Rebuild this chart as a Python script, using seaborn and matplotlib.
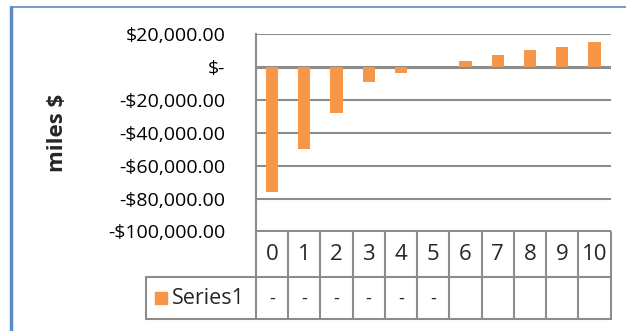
import matplotlib
matplotlib.use('Agg')
import matplotlib.pyplot as plt
import matplotlib.transforms as mtransforms
from matplotlib.patches import Rectangle
import numpy as np
import pandas as pd
import seaborn as sns

sns.set_style('white')
plt.rcParams['font.family'] = ['Open Sans', 'DejaVu Sans']

# Data
years = [0, 1, 2, 3, 4, 5, 6, 7, 8, 9, 10]
values = [-76000, -50000, -28300, -8900, -3400, 0, 3600, 7300, 10100, 11900, 15000]
table_text = ['-', '-', '-', '-', '-', '-', '', '', '', '', '']
series_name = 'Series1'
y_ticks = [20000, 0, -20000, -40000, -60000, -80000, -100000]

BAR = '#F79646'
GRID = '#8C8C8C'
FS = 14
TFS = 16

df = pd.DataFrame({'year': [str(y) for y in years], 'value': values})

W, H = 626, 331
fig = plt.figure(figsize=(W / 100, H / 100), dpi=100)
fig.patch.set_facecolor('white')

# axes in pixel layout
x0, x1, ytop, ybot = 255.7, 610.7, 34.0, 231.5
ax = fig.add_axes([x0 / W, 1 - ybot / H, (x1 - x0) / W, (ybot - ytop) / H])

sns.barplot(data=df, x='year', y='value', color=BAR, width=0.38,
            saturation=1, linewidth=0, ax=ax, zorder=3)

ax.set_ylim(-100000, 20000)
ax.set_xlim(-0.5, len(years) - 0.5)
ax.set_yticks(y_ticks)


def money(v):
    if v == 0:
        return '$-'
    s = '${:,.2f}'.format(abs(v))
    return '-' + s if v < 0 else s


ax.set_yticklabels([money(v) for v in y_ticks])
ax.tick_params(axis='y', length=0, labelsize=FS, pad=22, colors='#000000')
ax.set_xticks([])
ax.set_xlabel('')
ax.set_ylabel('miles $', fontsize=16, fontweight='bold')
ax.yaxis.set_label_coords(-0.53, 0.5)

for v in y_ticks:
    ax.axhline(v, color=GRID, lw=1.5 if v != 0 else 2.2, zorder=2)
for side in ['top', 'right', 'bottom']:
    ax.spines[side].set_visible(False)
ax.spines['left'].set_color(GRID)
ax.spines['left'].set_linewidth(1.5)

# data table under the plot (axes x = category, y = axes fraction)
trans = mtransforms.blended_transform_factory(ax.transData, ax.transAxes)
ph = ybot - ytop
r1 = -(277.3 - ybot) / ph
r2 = -(319.3 - ybot) / ph
n = len(years)
lkw = dict(color=GRID, lw=1.5, clip_on=False, transform=trans)
for i in range(n + 1):
    ax.plot([i - 0.5, i - 0.5], [0, r2], **lkw)
ax.plot([-0.5, n - 0.5], [r1, r1], **lkw)
ax.plot([-0.5, n - 0.5], [r2, r2], **lkw)
for i, (y, t) in enumerate(zip(years, table_text)):
    ax.text(i, r1 / 2, str(y), ha='center', va='center', fontsize=TFS,
            transform=trans, clip_on=False)
    ax.text(i, (r1 + r2) / 2, t, ha='center', va='center', fontsize=13,
            transform=trans, clip_on=False)

# legend cell
lx = 146 / W
fig.lines.append(plt.Line2D([lx, x0 / W], [1 - 277.3 / H, 1 - 277.3 / H],
                            color=GRID, lw=1.5, transform=fig.transFigure))
fig.lines.append(plt.Line2D([lx, x0 / W], [1 - 319.3 / H, 1 - 319.3 / H],
                            color=GRID, lw=1.5, transform=fig.transFigure))
fig.lines.append(plt.Line2D([lx, lx], [1 - 277.3 / H, 1 - 319.3 / H],
                            color=GRID, lw=1.5, transform=fig.transFigure))
fig.patches.append(Rectangle((155 / W, 1 - 303.5 / H), 11.5 / W, 11.5 / H,
                             color=BAR, transform=fig.transFigure))
fig.text(172 / W, 1 - 298.5 / H, series_name, fontsize=15.5,
         va='center', ha='left')

# chart frame (left and top edges)
fig.lines.append(plt.Line2D([11 / W, 11 / W], [0, 1 - 7 / H], color='#5B8BC6',
                            lw=2.5, transform=fig.transFigure))
fig.lines.append(plt.Line2D([11 / W, 1], [1 - 7 / H, 1 - 7 / H],
                            color='#5B8BC6', lw=1.2, transform=fig.transFigure))

fig.savefig('out.png', dpi=100, facecolor='white')
